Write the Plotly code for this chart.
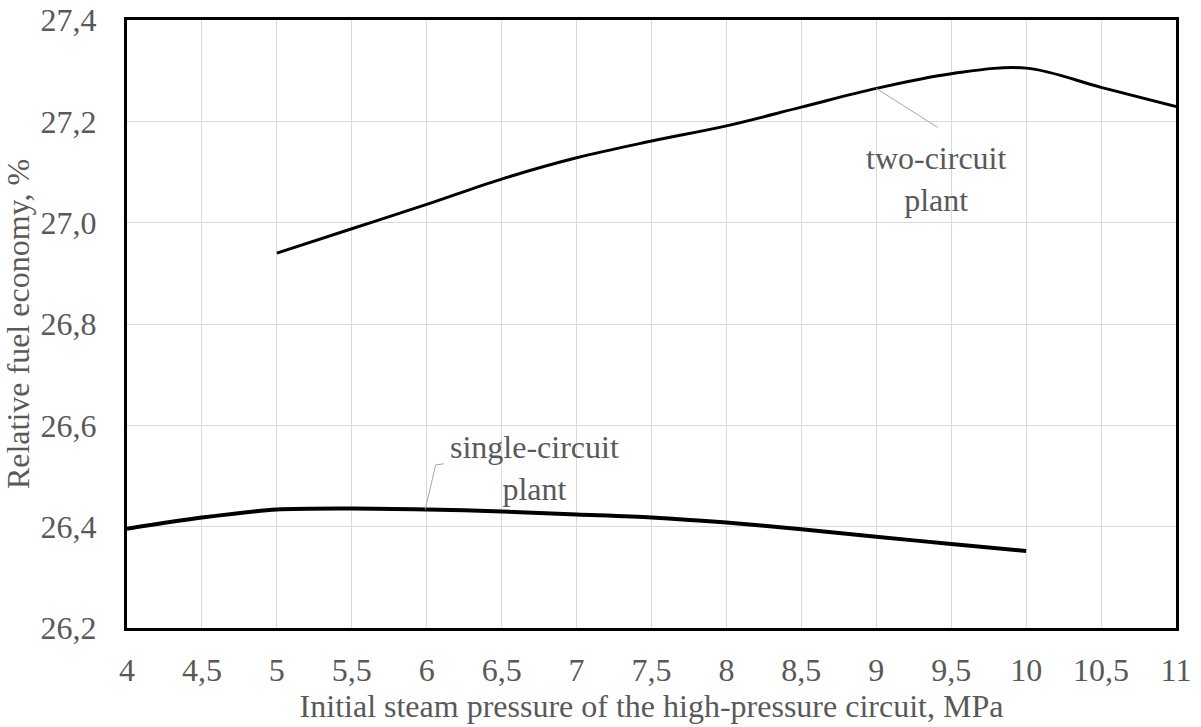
import plotly.graph_objects as go

# Data
x_two = [5, 5.5, 6, 6.5, 7, 7.5, 8, 8.5, 9, 9.5, 10, 10.5, 11]
y_two = [26.94, 26.988, 27.036, 27.086, 27.128, 27.161, 27.191, 27.228, 27.265, 27.294, 27.305, 27.267, 27.229]

x_single = [4, 4.5, 5, 5.5, 6, 6.5, 7, 7.5, 8, 8.5, 9, 9.5, 10]
y_single = [26.396, 26.418, 26.434, 26.436, 26.434, 26.430, 26.424, 26.418, 26.408, 26.395, 26.380, 26.366, 26.352]

x_ticks = [4, 4.5, 5, 5.5, 6, 6.5, 7, 7.5, 8, 8.5, 9, 9.5, 10, 10.5, 11]
x_tick_labels = ["4", "4,5", "5", "5,5", "6", "6,5", "7", "7,5", "8", "8,5", "9", "9,5", "10", "10,5", "11"]
y_ticks = [26.2, 26.4, 26.6, 26.8, 27.0, 27.2, 27.4]
y_tick_labels = ["26,2", "26,4", "26,6", "26,8", "27,0", "27,2", "27,4"]

FONT = "Liberation Serif, Times New Roman, serif"
GREY = "#595959"
FS = 32

fig = go.Figure()
fig.add_trace(go.Scatter(x=x_two, y=y_two, mode="lines",
                         line=dict(color="black", width=3, shape="spline", smoothing=1.0),
                         showlegend=False))
fig.add_trace(go.Scatter(x=x_single, y=y_single, mode="lines",
                         line=dict(color="black", width=4, shape="spline", smoothing=0.8),
                         showlegend=False))

# Leader lines
fig.add_trace(go.Scatter(x=[9.0, 9.41], y=[27.265, 27.188], mode="lines",
                         line=dict(color="#a6a6a6", width=1), showlegend=False, hoverinfo="skip"))
fig.add_trace(go.Scatter(x=[5.99, 6.06, 6.115], y=[26.434, 26.522, 26.524], mode="lines",
                         line=dict(color="#a6a6a6", width=1), showlegend=False, hoverinfo="skip"))

fig.add_annotation(x=9.4, y=27.086, text="two-circuit<br>plant", showarrow=False,
                   font=dict(family=FONT, size=FS, color=GREY), xanchor="center", yanchor="middle")
fig.add_annotation(x=6.72, y=26.516, text="single-circuit<br>plant", showarrow=False,
                   font=dict(family=FONT, size=FS, color=GREY), xanchor="center", yanchor="middle")

fig.update_xaxes(range=[4, 11], tickmode="array", tickvals=x_ticks, ticktext=x_tick_labels,
                 showgrid=True, gridcolor="#d9d9d9", gridwidth=1,
                 showline=True, linecolor="black", linewidth=3, mirror=True,
                 ticks="", ticklabelstandoff=12, zeroline=False, automargin=False,
                 tickfont=dict(family=FONT, size=FS, color=GREY),
                 title=dict(text="Initial steam pressure of the high-pressure circuit, MPa",
                            font=dict(family=FONT, size=FS, color=GREY), standoff=8))
fig.update_yaxes(range=[26.2, 27.4], tickmode="array", tickvals=y_ticks, ticktext=y_tick_labels,
                 showgrid=True, gridcolor="#d9d9d9", gridwidth=1,
                 showline=True, linecolor="black", linewidth=3, mirror=True,
                 ticks="", ticklabelstandoff=21, zeroline=False, automargin=False,
                 tickfont=dict(family=FONT, size=FS, color=GREY),
                 title=dict(text="Relative fuel economy, %",
                            font=dict(family=FONT, size=FS, color=GREY), standoff=4))

fig.update_layout(width=1201, height=727, plot_bgcolor="white", paper_bgcolor="white",
                  margin=dict(l=127, r=25, t=20, b=99), showlegend=False)

fig.write_html("out.html", config={"displayModeBar": False},
               post_script="document.body.style.margin='0';document.body.style.overflow='hidden';")
